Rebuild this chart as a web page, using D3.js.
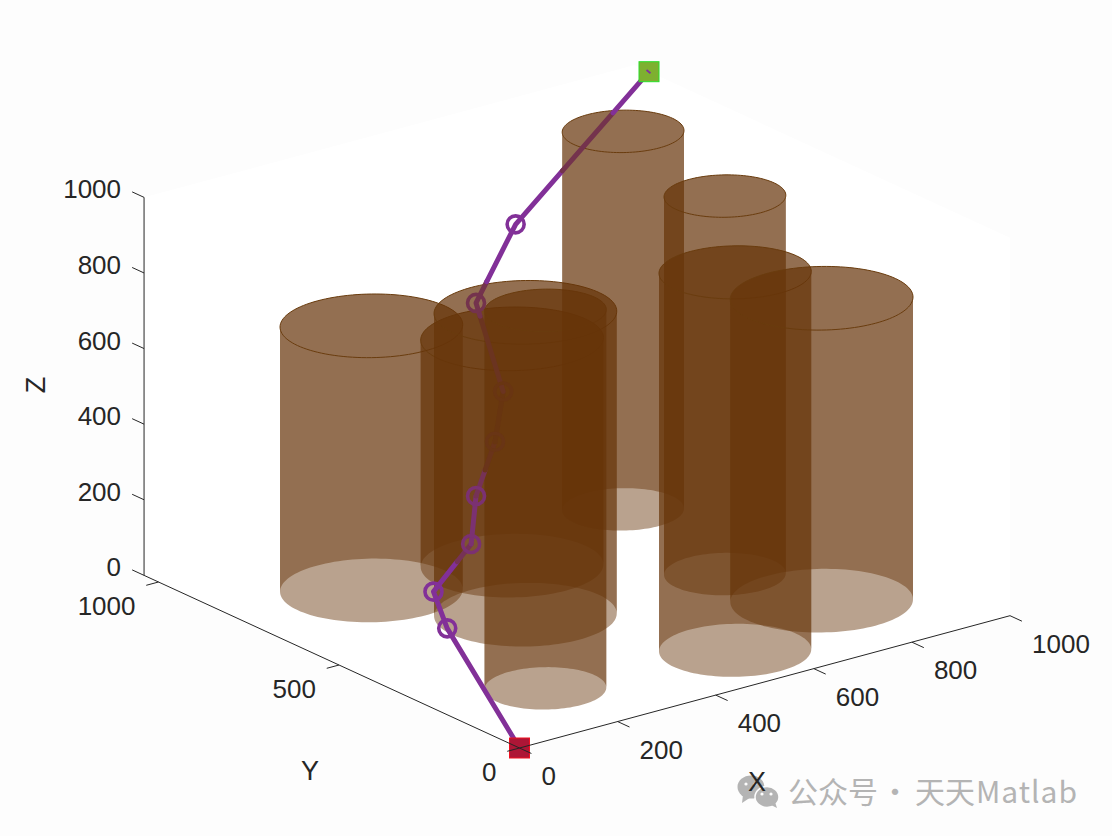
<!DOCTYPE html>
<html>
<head>
<meta charset="utf-8">
<script src="https://cdn.jsdelivr.net/npm/d3@7"></script>
<style>
  html, body { margin: 0; padding: 0; background: #fdfdfd; }
  svg { display: block; }
  text { font-family: "Liberation Sans", Arial, sans-serif; fill: #262626; }
</style>
</head>
<body>
<div id="viz"></div>
<script>
// Ticks
const xTicks = [0, 200, 400, 600, 800, 1000];
const yTicks = [0, 500, 1000];
const zTicks = [0, 200, 400, 600, 800, 1000];

// Cylinders (obstacles)
const cylX = [250, 500, 380, 200, 800, 750, 550, 800];
const cylY = [750, 700, 500, 200, 800, 450, 150, 250];
const cylR = [150, 150, 150, 100, 100, 100, 125, 150];
const cylH = [700, 600, 800, 1000, 1000, 1000, 1000, 800];

// Flight path, start to goal
const pathX = [0, 83, 94, 212, 247, 296, 331, 364, 550, 1000];
const pathY = [0, 313, 366, 422, 456, 470, 495, 615, 758, 1000];
const pathZ = [0, 150, 220, 280, 380, 500, 610, 780, 860, 1000];

// How many see-through layers lie over each stretch of the path
// (positions are path indices, 2.63 = 63% of the way from node 2 to node 3)
const runFrom = [0, 2.63, 3, 4, 4.48, 5, 6, 6.85, 7.27, 8.35, 8.73];
const runTo = [2.63, 3, 4, 4.48, 5, 6, 6.85, 7.27, 8.35, 8.73, 9];
const runLayers = [0, 1, 0.5, 1, 3.5, 5, 3, 1.2, 0, 1.2, 0];
const nodeLayers = [0, 0, 0.5, 0.5, 4, 4.5, 1.2, 0];

const width = 1112;
const height = 836;
const yMax = 1040; // back wall of the box sits a bit past the last tick

// Fixed view of the 3D box, one scale per screen contribution
const ox = 519.5;
const oy = 748;
const xToLeft = d3.scaleLinear().domain([0, 1000]).range([0, 490.5]);
const xToTop = d3.scaleLinear().domain([0, 1000]).range([0, -132.3]);
const yToLeft = d3.scaleLinear().domain([0, 1000]).range([0, -361]);
const yToTop = d3.scaleLinear().domain([0, 1000]).range([0, -166]);
const zToTop = d3.scaleLinear().domain([0, 1000]).range([0, -378]);

function project(x, y, z) {
  return [ox + xToLeft(x) + yToLeft(y), oy + xToTop(x) + yToTop(y) + zToTop(z)];
}

const line = d3.line();

const svg = d3
  .select("#viz")
  .append("svg")
  .attr("width", width)
  .attr("height", height)
  .attr("viewBox", `0 0 ${width} ${height}`);

// Box silhouette is pure white, the page around it slightly grey
const box = [
  [0, yMax, 0],
  [0, 0, 0],
  [1000, 0, 0],
  [1000, 0, 1000],
  [1000, yMax, 1000],
  [0, yMax, 1000],
];
svg
  .append("path")
  .attr("d", line(box.map((p) => project(...p))) + "Z")
  .attr("fill", "#ffffff");

// Cylinders: open bottom, so two walls and a cap
const brownRgb = [103, 53, 9];
const brown = `rgb(${brownRgb})`;
const alpha = 0.46;
const tRight = Math.atan2(yToLeft(1000), xToLeft(1000)); // angle of the rightmost screen point

function arc(i, z, start) {
  return d3.range(0, 61).map((k) => {
    const t = start + (k / 60) * Math.PI;
    return project(
      cylX[i] + cylR[i] * Math.cos(t),
      cylY[i] + cylR[i] * Math.sin(t),
      z
    );
  });
}

const cylG = svg.append("g");
cylX.forEach((_, i) => {
  const g = cylG.append("g");
  [tRight, tRight + Math.PI].forEach((start) => {
    const top = arc(i, cylH[i], start);
    const bottom = arc(i, 0, start).reverse();
    g.append("path")
      .attr("d", line(top.concat(bottom)) + "Z")
      .attr("fill", brown)
      .attr("fill-opacity", alpha);
  });
  g.append("path")
    .attr(
      "d",
      line(arc(i, cylH[i], tRight).concat(arc(i, cylH[i], tRight + Math.PI))) + "Z"
    )
    .attr("fill", brown)
    .attr("fill-opacity", alpha)
    .attr("stroke", "#6a3c0e")
    .attr("stroke-width", 1);
});

// Path. Colour is purple seen through n layers of the brown
const purple = [130, 48, 152];
function seenThrough(n) {
  const k = Math.pow(1 - alpha, n);
  return d3.rgb(...purple.map((c, j) => c * k + brownRgb[j] * (1 - k))).formatRgb();
}

function pathAt(t) {
  const i = Math.min(Math.floor(t), pathX.length - 2);
  const f = t - i;
  return project(
    pathX[i] + (pathX[i + 1] - pathX[i]) * f,
    pathY[i] + (pathY[i + 1] - pathY[i]) * f,
    pathZ[i] + (pathZ[i + 1] - pathZ[i]) * f
  );
}

const pathG = svg.append("g").attr("fill", "none");
runFrom.forEach((from, r) => {
  const to = runTo[r];
  const inner = d3.range(Math.floor(from) + 1, Math.ceil(to));
  const pts = [from, ...inner, to].map(pathAt);
  pathG
    .append("path")
    .attr("d", line(pts))
    .attr("stroke", seenThrough(runLayers[r]))
    .attr("stroke-width", 5)
    .attr("stroke-linejoin", "round")
    .attr("stroke-linecap", "round");
});

// Waypoint circles, end nodes excluded
nodeLayers.forEach((n, k) => {
  const [cx, cy] = pathAt(k + 1);
  pathG
    .append("circle")
    .attr("cx", cx)
    .attr("cy", cy)
    .attr("r", 8.5)
    .attr("stroke", seenThrough(n))
    .attr("stroke-width", 3.6);
});

// Start and goal squares
function square(t, fill, edge) {
  const [cx, cy] = pathAt(t);
  svg
    .append("rect")
    .attr("x", cx - 10)
    .attr("y", cy - 10)
    .attr("width", 20)
    .attr("height", 20)
    .attr("fill", fill)
    .attr("stroke", edge)
    .attr("stroke-width", 1);
  return [cx, cy];
}
square(0, "#ad1636", "#f01020");
const goal = square(9, "#7eb030", "#28e028");
svg
  .append("path")
  .attr("d", line([[goal[0] - 2.5, goal[1] - 1.7], [goal[0] + 1.5, goal[1] + 1.5]]))
  .attr("stroke", "#8030a0")
  .attr("stroke-width", 1.8);

// Axes
const axisColor = "#262626";
const axisG = svg.append("g").attr("fill", "none").attr("stroke", axisColor).attr("stroke-width", 1);
function seg(a, b) {
  axisG.append("path").attr("d", line([project(...a), project(...b)]));
}
seg([0, 0, 0], [1000, 0, 0]);
seg([0, 0, 0], [0, yMax, 0]);
seg([0, yMax, 0], [0, yMax, 1000]);

const textG = svg.append("g").attr("font-size", 26);

xTicks.forEach((v) => {
  seg([v, 0, 0], [v, -33, 0]);
  const [px, py] = project(v, 0, 0);
  textG.append("text").attr("x", px + 22).attr("y", py + 28).attr("dy", "0.35em").text(v);
});
yTicks.forEach((v) => {
  seg([0, v, 0], [-25, v, 0]);
  const [px, py] = project(0, v, 0);
  textG
    .append("text")
    .attr("x", px - 23)
    .attr("y", py + 24)
    .attr("dy", "0.35em")
    .attr("text-anchor", "end")
    .text(v);
});
zTicks.forEach((v) => {
  seg([0, yMax, v], [0, yMax + 33, v]);
  const [px, py] = project(0, yMax, v);
  textG
    .append("text")
    .attr("x", px - 23)
    .attr("y", py - 8)
    .attr("dy", "0.35em")
    .attr("text-anchor", "end")
    .text(v);
});

// Watermark sits under the X label
const wm = svg.append("g").attr("fill", "#b4b4b4");
wm.append("ellipse").attr("cx", 751).attr("cy", 787).attr("rx", 13.5).attr("ry", 11.5);
wm.append("path").attr("d", "M743 795L742 803L751 797Z");
wm.append("ellipse").attr("cx", 767).attr("cy", 797).attr("rx", 12).attr("ry", 10.5).attr("stroke", "#fdfdfd").attr("stroke-width", 1.5);
wm.append("path").attr("d", "M771 805L777 808L775 802Z");
[[746, 784], [755, 784], [762, 794], [771, 794]].forEach(([cx, cy]) => {
  wm.append("circle").attr("cx", cx).attr("cy", cy).attr("r", 1.6).attr("fill", "#fdfdfd");
});
const wmLabels = ["公众号", "·", "天天", "Matlab"];
const wmLeft = [788, 880, 915, 976];
const wmLength = [90, 30, 60, 101];
wmLabels.forEach((s, i) => {
  wm.append("text")
    .attr("x", wmLeft[i])
    .attr("y", 803)
    .attr("font-size", 30)
    .attr("textLength", wmLength[i])
    .style("font-family", '"Noto Sans CJK SC", "Noto Sans", sans-serif')
    .style("fill", "#b4b4b4")
    .text(s);
});

// Axis titles, on top of the watermark
const titleG = svg.append("g").attr("font-size", 27).attr("text-anchor", "middle");
titleG.append("text").attr("x", 757).attr("y", 782).attr("dy", "0.35em").text("X");
titleG.append("text").attr("x", 310).attr("y", 771).attr("dy", "0.35em").text("Y");
titleG
  .append("text")
  .attr("transform", "translate(36,385) rotate(-90)")
  .attr("dy", "0.35em")
  .text("Z");
</script>
</body>
</html>
